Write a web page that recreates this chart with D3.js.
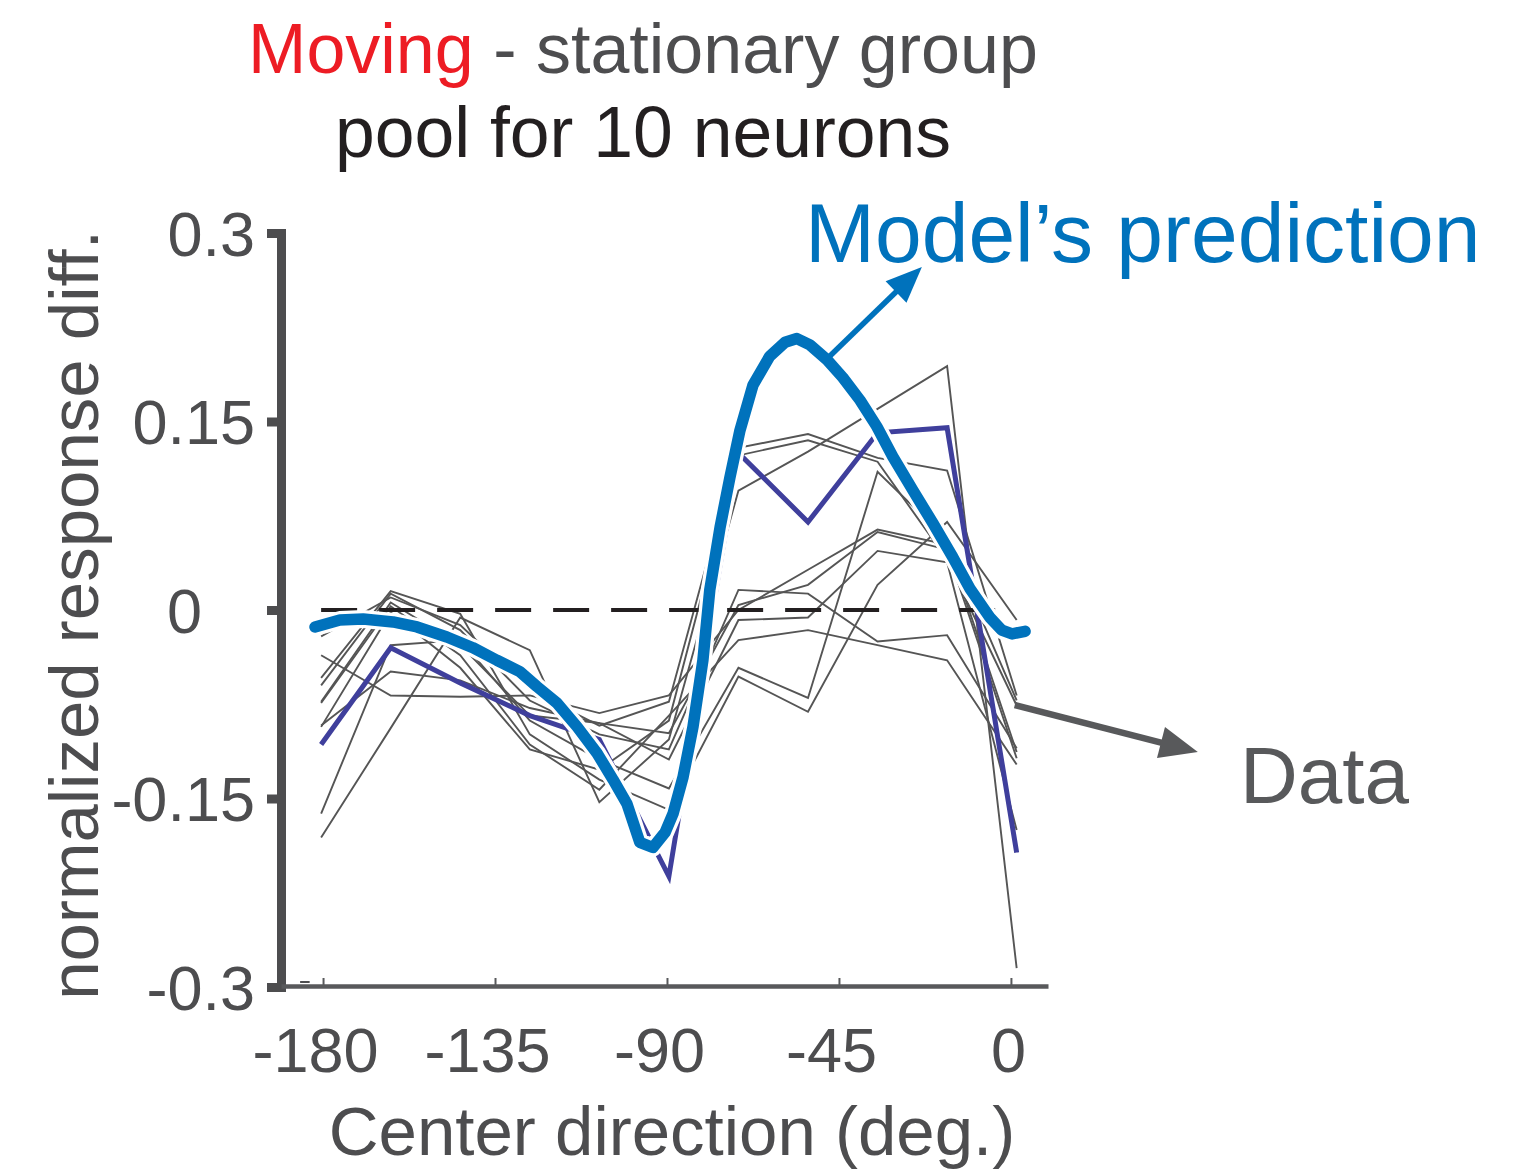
<!DOCTYPE html>
<html>
<head>
<meta charset="utf-8">
<script src="https://cdn.jsdelivr.net/npm/d3@7"></script>
<style>
  body { margin: 0; background: #fff; }
  svg { display: block; font-family: 'Liberation Sans', Arial, Helvetica, sans-serif; }
</style>
</head>
<body>
<div id="chart"></div>
<script>
const directions = [-180.5, -162.3, -144.1, -125.9, -107.7, -89.5, -71.3, -53.1, -34.9, -16.7, 1.5];

// single neurons (thin gray)
const neurons = [
  [-0.181, -0.094, -0.006, -0.032, -0.153, -0.103, 0.095, 0.126, 0.160, 0.194, -0.285],
  [-0.036, -0.068, -0.069, -0.068, -0.082, -0.068, 0.000, 0.032, 0.064, 0.052, -0.113],
  [-0.092, -0.049, -0.056, -0.078, -0.090, -0.098, 0.004, 0.020, 0.062, 0.048, -0.118],
  [-0.162, -0.028, -0.024, -0.088, -0.119, -0.142, -0.046, -0.070, 0.110, 0.056, -0.072],
  [-0.021, 0.010, -0.012, -0.064, -0.092, -0.073, 0.129, 0.140, 0.121, 0.111, -0.068],
  [-0.054, 0.015, -0.003, -0.099, -0.135, -0.159, -0.053, -0.081, 0.020, 0.070, -0.008],
  [-0.060, 0.013, -0.016, -0.072, -0.099, -0.111, 0.016, 0.013, -0.025, -0.020, -0.110],
  [-0.073, 0.006, -0.028, -0.084, -0.090, -0.119, -0.008, -0.006, 0.047, 0.038, -0.175],
  [-0.074, 0.003, -0.036, -0.107, -0.143, -0.084, -0.024, -0.016, -0.028, -0.040, -0.123],
  [-0.093, -0.002, -0.046, -0.111, -0.127, -0.088, 0.123, 0.135, 0.118, 0.040, -0.076]
];

// pooled response (dark blue)
const pooled = [-0.107, -0.030, -0.058, -0.084, -0.103, -0.212, 0.125, 0.070, 0.141, 0.145, -0.193];

// model's prediction (thick blue)
const modelDir = [-182.1, -175.6, -169.5, -161.7, -155.4, -147.6, -140.8, -134.5, -128.5, -124.0, -118.8,
  -113.5, -108.3, -104.1, -100.5, -97.1, -93.7, -90.5, -88.4, -85.8, -83.2, -80.6, -78.8, -76.1, -73.5,
  -70.9, -67.5, -63.1, -59.1, -56.0, -52.6, -48.1, -44.0, -39.5, -35.1, -30.9, -25.6, -20.4, -15.2,
  -10.7, -5.5, -2.4, 0.3, 3.7];
const modelResp = [-0.0135, -0.008, -0.0072, -0.0095, -0.0135, -0.0215, -0.030, -0.040, -0.049, -0.061, -0.074,
  -0.093, -0.114, -0.135, -0.154, -0.185, -0.189, -0.177, -0.162, -0.133, -0.093, -0.040, 0.016, 0.066, 0.106,
  0.143, 0.179, 0.202, 0.213, 0.216, 0.211, 0.199, 0.185, 0.167, 0.146, 0.122, 0.095, 0.069, 0.042,
  0.017, -0.006, -0.016, -0.019, -0.017];

const xTicks = [-180, -135, -90, -45, 0];
const yTicks = [-0.3, -0.15, 0, 0.15, 0.3];

const width = 1527;
const height = 1173;
const gray = '#4d4d4f';

const svg = d3.select('#chart').append('svg').attr('width', width).attr('height', height);

const x = d3.scaleLinear().domain([-191, 9.7]).range([281, 1048]);
const y = d3.scaleLinear().domain([-0.3, 0.3]).range([987, 233]);

// titles
const title = svg.append('text').attr('x', 643).attr('y', 73).attr('text-anchor', 'middle')
  .attr('font-size', 70);
title.append('tspan').attr('fill', '#ed1c24').text('Moving');
title.append('tspan').attr('fill', gray).text(' - stationary group');
svg.append('text').attr('x', 643).attr('y', 157).attr('text-anchor', 'middle')
  .attr('font-size', 71.5).attr('fill', '#231f20').text('pool for 10 neurons');

// axes
const yAxis = svg.append('g').attr('transform', 'translate(281,0)')
  .call(d3.axisLeft(y).tickValues(yTicks).tickSize(13).tickSizeOuter(0).tickFormat(d => String(d)));
yAxis.select('.domain').attr('stroke', gray).attr('stroke-width', 9).attr('stroke-linecap', 'square');
yAxis.selectAll('.tick line').attr('stroke', gray).attr('stroke-width', 9).attr('x1', 0).attr('x2', -14);
yAxis.selectAll('.tick text')
  .attr('font-size', 63).attr('fill', gray).attr('font-family', null)
  .attr('x', d => d === 0 ? -79 : -26).attr('dy', '0.35em');

const xAxis = svg.append('g').attr('transform', 'translate(0,986)')
  .call(d3.axisBottom(x).tickValues(xTicks).tickSize(-8).tickSizeOuter(0).tickFormat(d => String(d)));
xAxis.select('.domain').attr('stroke', '#58595b').attr('stroke-width', 4.5);
xAxis.selectAll('.tick line').attr('stroke', '#58595b').attr('stroke-width', 2);
xAxis.selectAll('.tick text')
  .attr('font-size', 63).attr('fill', gray).attr('font-family', null)
  .attr('y', 86).attr('dy', 0).attr('dx', d => d === 0 ? -3 : -8);

// small stray tick near the origin
svg.append('line')
  .attr('x1', x(-186)).attr('x2', x(-183.5)).attr('y1', y(-0.3) - 5).attr('y2', y(-0.3) - 5)
  .attr('stroke', gray).attr('stroke-width', 2);

svg.append('text').attr('x', 672).attr('y', 1155).attr('text-anchor', 'middle')
  .attr('font-size', 69).attr('fill', gray).text('Center direction (deg.)');
svg.append('text').attr('transform', 'translate(98,615) rotate(-90)').attr('text-anchor', 'middle')
  .attr('font-size', 69).attr('fill', gray).text('normalized response diff.');

const line = d3.line().x(d => x(d[0])).y(d => y(d[1]));

// neurons
svg.append('g').selectAll('path')
  .data(neurons)
  .enter().append('path')
  .attr('d', d => line(d.map((v, i) => [directions[i], v])))
  .attr('fill', 'none').attr('stroke', '#555555').attr('stroke-width', 1.9).attr('stroke-linejoin', 'miter');

// zero line
svg.append('line')
  .attr('x1', x(-180.5)).attr('x2', x(0)).attr('y1', y(0)).attr('y2', y(0))
  .attr('stroke', '#231f20').attr('stroke-width', 4).attr('stroke-dasharray', '36,22');

// pooled
svg.append('path')
  .attr('d', line(pooled.map((v, i) => [directions[i], v])))
  .attr('fill', 'none').attr('stroke', '#3f3f9c').attr('stroke-width', 5);

// model, with white halo
const modelPts = modelResp.map((v, i) => [modelDir[i], v]);
svg.append('path').attr('d', line(modelPts))
  .attr('fill', 'none').attr('stroke', '#fff').attr('stroke-width', 18)
  .attr('stroke-linejoin', 'round').attr('stroke-linecap', 'round');
svg.append('path').attr('d', line(modelPts))
  .attr('fill', 'none').attr('stroke', '#0072bc').attr('stroke-width', 11.5)
  .attr('stroke-linejoin', 'round').attr('stroke-linecap', 'round');

// annotation arrows
function arrow(from, to, color, w, headLen, headW) {
  const x0 = x(from[0]), y0 = y(from[1]), x1 = x(to[0]), y1 = y(to[1]);
  const len = Math.hypot(x1 - x0, y1 - y0);
  const ux = (x1 - x0) / len, uy = (y1 - y0) / len;
  const bx = x1 - ux * headLen, by = y1 - uy * headLen;
  svg.append('line').attr('x1', x0).attr('y1', y0).attr('x2', bx + ux * 2).attr('y2', by + uy * 2)
    .attr('stroke', color).attr('stroke-width', w);
  svg.append('path')
    .attr('d', `M${x1},${y1}L${bx - uy * headW},${by + ux * headW}L${bx + uy * headW},${by - ux * headW}Z`)
    .attr('fill', color);
}
arrow([-47.9, 0.2005], [-23.3, 0.273], '#0072bc', 5.5, 36, 15);
arrow([1.0, -0.0756], [48.9, -0.113], '#58595b', 6.5, 38, 16);

svg.append('text').attr('x', 805).attr('y', 262)
  .attr('font-size', 84).attr('fill', '#0072bc').text('Model’s prediction');
svg.append('text').attr('x', 1240).attr('y', 803)
  .attr('font-size', 80).attr('fill', '#58595b').text('Data');
</script>
</body>
</html>
